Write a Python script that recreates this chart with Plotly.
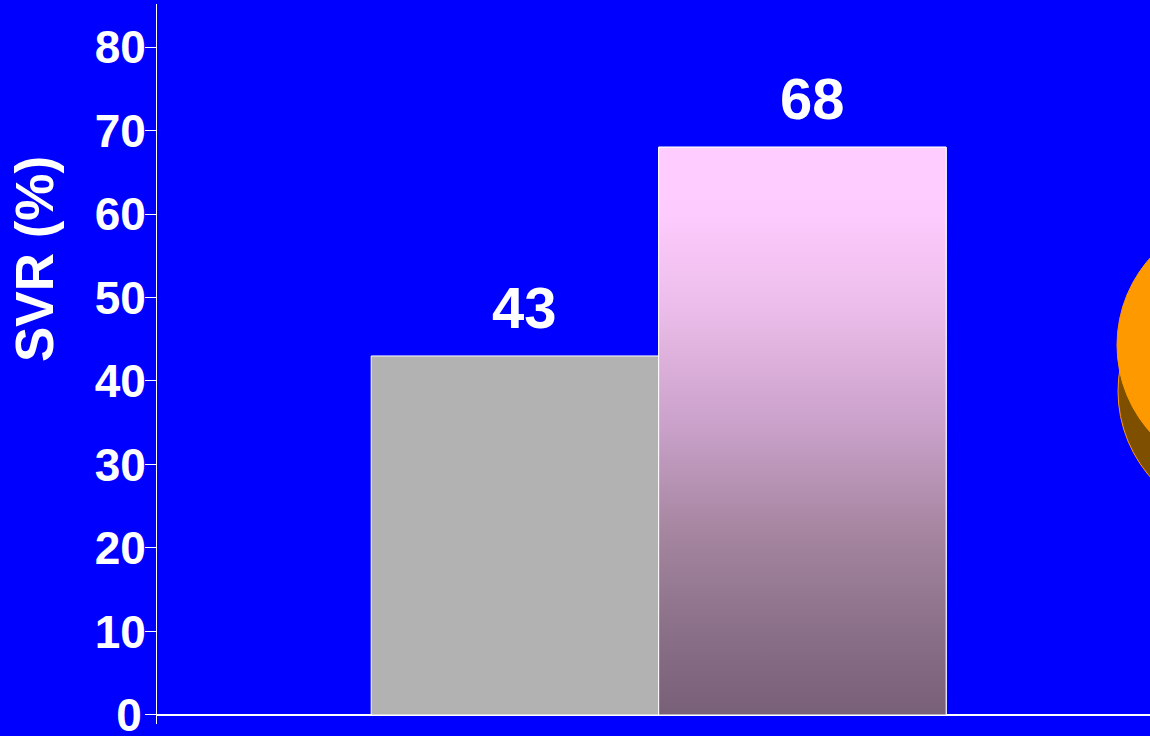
import plotly.graph_objects as go

positions = [0, 1]
values = [43, 68]
bar_colors = ["#B2B2B2", "#7F667F"]
labels = ["43", "68"]
tick_values = [0, 10, 20, 30, 40, 50, 60, 70, 80]
tick_labels = ["0\u200a", "10", "20", "30", "40", "50", "60", "70", "80"]

FONT = "Liberation Sans, Arial, sans-serif"
W, H = 1150, 736
L, R, T, B = 157, 1150, 4, 724

def px(v):
    return (v - L) / (R - L)

def py(v):
    return (B - v) / (B - T)

fig = go.Figure()
fig.add_trace(go.Bar(x=positions, y=values, width=1,
                     marker=dict(color=bar_colors, line=dict(color="white", width=1)),
                     hoverinfo="skip", showlegend=False))

# gradient fill on the second bar
xg, yg = positions[1], values[1]
fig.add_trace(go.Scatter(
    x=[xg - 0.5, xg + 0.5, xg + 0.5, xg - 0.5, xg - 0.5],
    y=[0, 0, yg, yg, 0],
    mode="lines", fill="toself",
    line=dict(color="white", width=1),
    fillgradient=dict(type="vertical",
                      colorscale=[[0, "#786078"], [0.15, "#8A7088"], [0.32, "#A5859F"],
                                  [0.5, "#C8A0C8"], [0.72, "#ECBDEA"], [0.88, "#FDCBFD"],
                                  [1, "#FFCCFF"]]),
    hoverinfo="skip", showlegend=False))

annotations = [
    dict(x=p, y=v, text=f"<b>{t}</b>", xref="x", yref="y", showarrow=False,
         xanchor="center", yanchor="bottom", xshift=10, yshift=14,
         font=dict(family=FONT, size=58, color="white"))
    for p, v, t in zip(positions, values, labels)
]
annotations.append(dict(x=px(34), y=py(259), xref="paper", yref="paper",
                        text="<b>SVR (%)</b>", textangle=-90, showarrow=False,
                        xanchor="center", yanchor="middle",
                        font=dict(family=FONT, size=53, color="white")))

def circle(cx, cy, r, fill):
    return dict(type="circle", xref="paper", yref="paper", layer="above",
                x0=px(cx - r), x1=px(cx + r), y0=py(cy + r), y1=py(cy - r),
                fillcolor=fill, line=dict(color="#FF9900", width=1))

fig.update_layout(
    width=W, height=H, autosize=False,
    margin=dict(l=L, r=W - R, t=T, b=H - B, pad=0, autoexpand=False),
    paper_bgcolor="#0000FF", plot_bgcolor="#0000FF",
    showlegend=False,
    annotations=annotations,
    shapes=[circle(1249, 391, 131, "#7F4F00"), circle(1248, 345, 131, "#FF9900")],
    xaxis=dict(range=[-1.245, 2.209], visible=False, showgrid=False, zeroline=False),
    yaxis=dict(range=[-1.08, 85.15], tickvals=tick_values, ticktext=tick_labels, ticks="outside",
               ticklen=11, tickwidth=1, tickcolor="white",
               showline=True, linecolor="white", linewidth=1,
               showgrid=False, zeroline=True, zerolinecolor="white", zerolinewidth=1.5,
               ticklabelstandoff=-10, ticklabeloverflow="allow", automargin=False,
               tickfont=dict(family=FONT, size=46, color="white", weight="bold")),
)
fig.write_html("out.html", config={"displayModeBar": False},
               post_script="document.body.style.margin='0';document.body.style.overflow='hidden';")
